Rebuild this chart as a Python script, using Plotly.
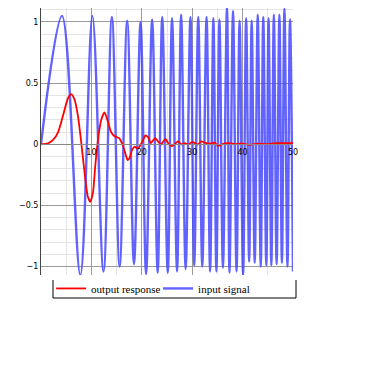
import plotly.graph_objects as go

# ---- data ----
# input signal (chirp): extrema positions (time, value)
input_t = [0.0, 4.16, 7.8, 10.2, 12.4, 14.06, 15.6, 17.1, 18.45, 19.75, 20.85, 22.05,
           23.15, 24.05, 25.15, 26.0, 27.0, 27.8, 28.7, 29.65, 30.4, 31.2, 32.0, 32.85,
           33.55, 34.2, 34.8, 35.4, 36.1, 36.9, 37.4, 38.1, 38.8, 39.4, 40.1, 40.7,
           41.3, 41.8, 42.4, 43.0, 43.6, 44.1, 44.7, 45.15, 45.7, 46.2, 46.75, 47.3,
           47.8, 48.3, 48.9, 49.4, 50.0]
input_y = [0.0, 1.05, -1.07, 1.05, -1.04, 1.04, -1.00, 1.01, -0.98, 1.00, -1.06, 1.02,
           -1.05, 1.04, -1.05, 1.03, -1.04, 1.06, -1.02, 1.04, -0.99, 1.04, -1.00, 1.04,
           -1.04, 1.03, -1.04, 1.02, -1.01, 1.12, -1.05, 1.09, -1.04, 1.01, -1.07, 1.03,
           -0.96, 1.01, -0.97, 1.06, -1.00, 1.04, -0.99, 1.03, -0.99, 1.06, -0.98, 1.06,
           -0.97, 1.11, -1.00, 1.02, -1.04]

# output response
output_t = [0, 1.4, 2.4, 3.4, 4.4, 5.35, 6.0, 6.7, 7.35, 8.0, 8.65, 9.3, 9.77, 10.3,
            10.76, 11.3, 11.95, 12.6, 13.27, 13.9, 14.6, 15.5, 16.3, 16.8, 17.2, 17.6,
            18.1, 18.6, 19.1, 19.6, 20.3, 20.7, 21.25, 21.8, 22.2, 22.7, 23.2, 23.8,
            24.2, 24.7, 25.2, 25.9, 26.4, 27.2, 27.9, 28.5, 29.2, 30.0, 30.5, 31.1,
            31.8, 32.6, 33.5, 34.5, 35.1, 36.3, 37.4, 38.5, 39.7, 41.4, 43.0, 44.7,
            46.7, 48.0, 50.0]
output_y = [0, 0.008, 0.035, 0.10, 0.24, 0.376, 0.41, 0.36, 0.226, 0.01, -0.235, -0.43,
            -0.47, -0.40, -0.18, 0.035, 0.20, 0.26, 0.185, 0.10, 0.065, 0.05, -0.016,
            -0.085, -0.13, -0.11, -0.044, -0.02, -0.036, -0.016, 0.038, 0.073, 0.057,
            0.01, 0.03, 0.05, 0.024, -0.003, 0.019, 0.043, 0.01, -0.016, -0.003, 0.024,
            -0.003, 0.01, -0.003, 0.02, 0.01, -0.003, 0.024, 0.012, 0.005, 0.012,
            -0.013, 0.005, 0.008, 0.0, 0.006, -0.005, 0.005, 0.0, 0.008, 0.008, 0.01]

x_ticks = [10, 20, 30, 40, 50]
y_ticks = [-1, -0.5, 0, 0.5, 1]
y_tick_text = ["\u22121", "\u22120.5", "0", "0.5", "1"]

Y_MIN, Y_MAX = -1.069, 1.114

fig = go.Figure()
fig.add_trace(go.Scatter(x=input_t, y=input_y, mode="lines", name="input signal",
                         line=dict(color="rgba(70,70,255,0.85)", width=2.4, shape="spline", smoothing=1.0)))
fig.add_trace(go.Scatter(x=output_t, y=output_y, mode="lines", name="output response",
                         line=dict(color="#ff0000", width=1.8, shape="spline", smoothing=0.6)))

tick_font = dict(family="DejaVu Sans", size=8, color="black")

# page body has an 8px margin, so the figure is drawn 8px right/down
fig.update_layout(
    width=365, height=365,
    margin=dict(l=33, r=80, t=0, b=98, autoexpand=False),
    paper_bgcolor="white", plot_bgcolor="white",
    showlegend=True,
    legend=dict(orientation="h", traceorder="reversed", x=0.04, y=0.004,
                xanchor="left", yanchor="top", bgcolor="rgba(0,0,0,0)",
                font=dict(family="Liberation Serif", size=11, color="black"),
                borderwidth=0, itemwidth=30, entrywidth=62, entrywidthmode="pixels"),
    xaxis=dict(range=[0, 50], tickvals=x_ticks, ticks="", showgrid=True, automargin=False,
               gridcolor="#9a9a9a", gridwidth=1,
               minor=dict(dtick=5, tick0=0, showgrid=True, gridcolor="#e4e4e4", gridwidth=1),
               anchor="free", position=(0 - Y_MIN) / (Y_MAX - Y_MIN),
               showline=True, linecolor="#888888", linewidth=1,
               zeroline=False, tickfont=tick_font),
    yaxis=dict(range=[Y_MIN, Y_MAX], tickvals=y_ticks, ticktext=y_tick_text, ticks="",
               showgrid=True, gridcolor="#9a9a9a", gridwidth=1, automargin=False,
               minor=dict(dtick=0.1, tick0=0, showgrid=True, gridcolor="#e4e4e4", gridwidth=1),
               showline=True, linecolor="#444444", linewidth=1,
               zeroline=True, zerolinecolor="#888888", zerolinewidth=1,
               tickfont=tick_font),
)

# legend frame (left, bottom, right sides)
fx0, fx1 = 12 / 252, 255 / 252
fy0, fy1 = -5 / 267, -23 / 267
for (a, b, c, d) in [(fx0, fy0, fx0, fy1), (fx0, fy1, fx1, fy1), (fx1, fy0, fx1, fy1)]:
    fig.add_shape(type="line", xref="paper", yref="paper", x0=a, y0=b, x1=c, y1=d,
                  line=dict(color="black", width=1))

fig.write_html("out.html")
